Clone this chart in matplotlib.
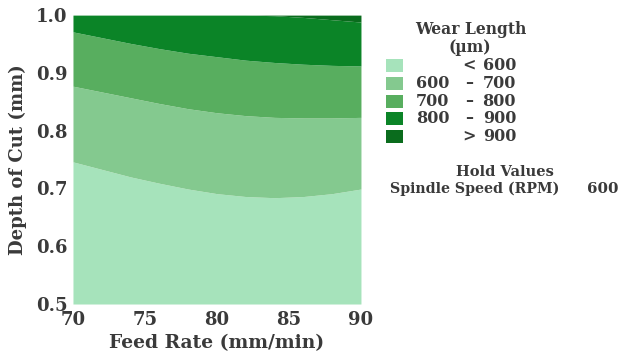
import numpy as np
import matplotlib
matplotlib.use("Agg")
import matplotlib.pyplot as plt
from matplotlib.patches import Rectangle

# Feed rate positions (mm/min) where contour boundaries were read
feed = [70, 72, 74, 76, 78, 80, 82, 84, 86, 88, 90]
# Depth of cut (mm) at which wear length crosses each level
b600 = [0.746, 0.733, 0.720, 0.709, 0.699, 0.691, 0.686, 0.684, 0.686, 0.691, 0.699]
b700 = [0.877, 0.867, 0.857, 0.847, 0.838, 0.831, 0.826, 0.823, 0.822, 0.822, 0.823]
b800 = [0.971, 0.961, 0.951, 0.942, 0.934, 0.928, 0.922, 0.918, 0.915, 0.913, 0.912]
b900 = [1.000, 1.000, 1.000, 1.000, 1.000, 1.000, 1.000, 0.999, 0.996, 0.992, 0.988]

colors = ["#a6e3bb", "#84c98f", "#58ae5f", "#0b8427", "#0a6c1d"]
lo = ["", "600", "700", "800", ""]
mid = ["<", "–", "–", "–", ">"]
hi = ["600", "700", "800", "900", "900"]

xticks = [70, 75, 80, 85, 90]
yticks = [0.5, 0.6, 0.7, 0.8, 0.9, 1.0]

fig = plt.figure(figsize=(6.2, 3.58), dpi=100)
ax = fig.add_axes([0.1177, 0.1508, 0.4645, 0.807])

x = np.array(feed)
bottom = np.full(len(feed), 0.5)
top = np.full(len(feed), 1.0)
bounds = [bottom, np.array(b600), np.array(b700), np.array(b800), np.array(b900), top]
for i in range(5):
    ax.fill_between(x, bounds[i], bounds[i + 1], color=colors[i], lw=0, antialiased=True)

ax.set_xlim(70, 90)
ax.set_ylim(0.5, 1.0)
ax.set_xticks(xticks)
ax.set_yticks(yticks)
ax.set_yticklabels([f"{v:.1f}" for v in yticks])
for s in ax.spines.values():
    s.set_visible(False)
ax.tick_params(length=0, labelsize=13, colors="#3a3a3a")
ax.tick_params(axis="x", pad=5)
ax.tick_params(axis="y", pad=4)
for lab in ax.get_xticklabels() + ax.get_yticklabels():
    lab.set_fontfamily("DejaVu Serif")
    lab.set_fontweight("bold")

ax.set_xlabel("Feed Rate (mm/min)", fontfamily="DejaVu Serif", fontweight="bold",
              fontsize=13.5, color="#3a3a3a", labelpad=4)
ax.set_ylabel("Depth of Cut (mm)", fontfamily="DejaVu Serif", fontweight="bold",
              fontsize=13, color="#3a3a3a", labelpad=6)

# Legend
tc = "#3a3a3a"
base = dict(fontfamily="DejaVu Serif", fontweight="bold", color=tc)
W, H = 620, 358
def fx(px):
    return px / W
def fy(py):
    return 1 - py / H

fig.text(fx(471), fy(30), "Wear Length", ha="center", va="center", fontsize=11.2, **base)
fig.text(fx(470), fy(48), "(µm)", ha="center", va="center", fontsize=11.2, **base)
row_y = [65, 83, 101, 118, 136]
for i in range(5):
    fig.patches.append(Rectangle((fx(386), fy(row_y[i] + 6.5)), 17 / W, 13 / H,
                                 transform=fig.transFigure, color=colors[i], lw=0))
    if lo[i]:
        fig.text(fx(416), fy(row_y[i]), lo[i], ha="left", va="center", fontsize=11.5, **base)
    fig.text(fx(469), fy(row_y[i]), mid[i], ha="center", va="center", fontsize=11.5, **base)
    fig.text(fx(516), fy(row_y[i]), hi[i], ha="right", va="center", fontsize=11.5, **base)

fig.text(fx(505), fy(172), "Hold Values", ha="center", va="center", fontsize=10.5, **base)
fig.text(fx(390), fy(189), "Spindle Speed (RPM)", ha="left", va="center", fontsize=10.2, **base)
fig.text(fx(618), fy(189), "600", ha="right", va="center", fontsize=10.8, **base)

fig.savefig("out.png", dpi=100)
